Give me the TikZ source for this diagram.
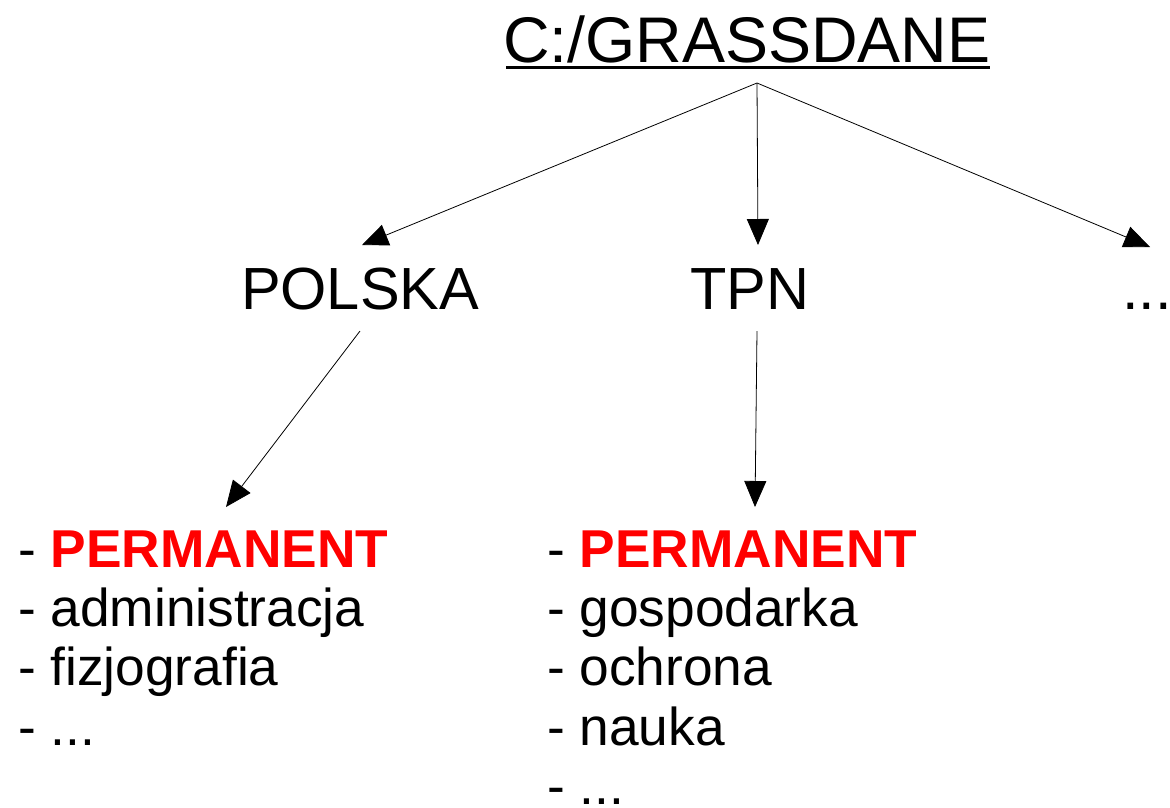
\documentclass[tikz,border=0pt]{standalone}
\usepackage{fontspec}
\setmainfont{Liberation Sans}
\usetikzlibrary{arrows.meta}
\definecolor{permred}{RGB}{255,0,0}
\begin{document}
\begin{tikzpicture}[x=1pt,y=-1pt,
  titlefont/.style={font=\fontsize{64.5}{70}\selectfont},
  levelfont/.style={font=\fontsize{59.5}{64}\selectfont},
  listfont/.style={font=\fontsize{53.3}{59}\selectfont},
  txt/.style={inner sep=0pt, outer sep=0pt, anchor=base west},
  conn/.style={line width=0.8pt, -{Triangle[length=26pt,width=22pt]}}]
\useasboundingbox (0,0) rectangle (1170,807);
% title
\node[txt,titlefont] (root) at (503,62) {C:/GRASSDANE};
\draw[line width=3pt] ([yshift=-5.5pt]root.base west) ++(3pt,0) -- ([yshift=-5.5pt]root.base east);
% level 1
\node[txt,levelfont] (polska) at (241,309) {POLSKA};
\node[txt,levelfont] (tpn) at (690,309) {TPN};
\node[txt,levelfont] (more) at (1122,309) {...};
% lists
\node[txt,listfont] (l1) at (18,567) {- \textcolor{permred}{\bfseries PERMANENT}};
\node[txt,listfont] (l2) at (18,626) {- administracja};
\node[txt,listfont] (l3) at (18,685) {- fizjografia};
\node[txt,listfont] (l4) at (18,745) {- ...};
\node[txt,listfont] (r1) at (547,567) {- \textcolor{permred}{\bfseries PERMANENT}};
\node[txt,listfont] (r2) at (547,626) {- gospodarka};
\node[txt,listfont] (r3) at (547,685) {- ochrona};
\node[txt,listfont] (r4) at (547,745) {- nauka};
\node[txt,listfont] (r5) at (547,804) {- ...};
% connector points
\coordinate (rootout) at (757,83);
\coordinate (polskain) at (362,245);
\coordinate (tpnin) at (758,245);
\coordinate (morein) at (1150,247);
\coordinate (polskaout) at (360,331);
\coordinate (listLin) at (226,507);
\coordinate (tpnout) at (757,331);
\coordinate (listRin) at (755,507);
\draw[conn] (rootout) -- (polskain);
\draw[conn] (rootout) -- (tpnin);
\draw[conn] (rootout) -- (morein);
\draw[conn] (polskaout) -- (listLin);
\draw[conn] (tpnout) -- (listRin);
\end{tikzpicture}
\end{document}
